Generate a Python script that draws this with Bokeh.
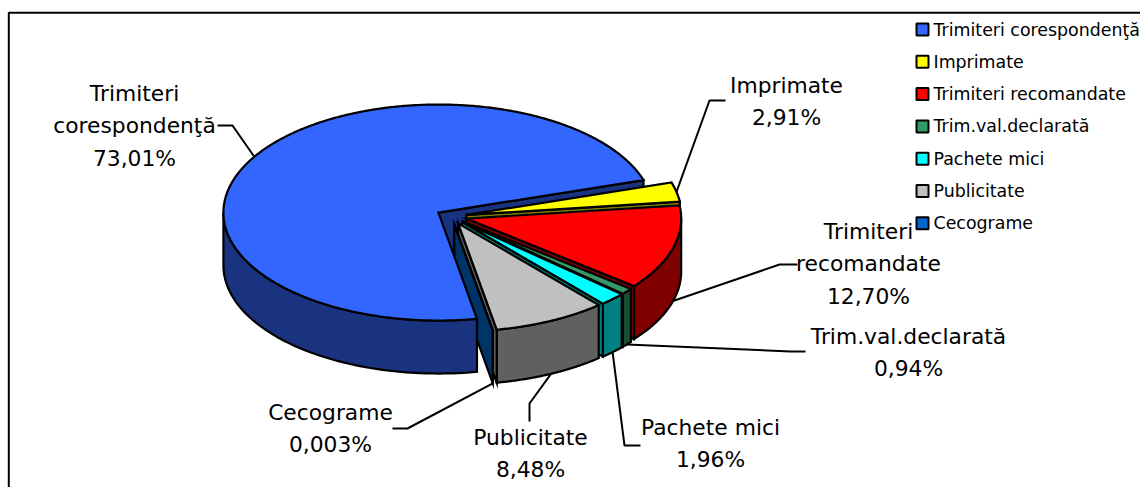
import numpy as np
from bokeh.plotting import figure
from bokeh.models import Range1d
from bokeh.core.properties import value
from bokeh.embed import file_html
from bokeh.resources import INLINE

# ---- data
categories = ["Trimiteri corespondenţă", "Imprimate", "Trimiteri recomandate",
              "Trim.val.declarată", "Pachete mici", "Publicitate", "Cecograme"]
values = [73.01, 2.91, 12.70, 0.94, 1.96, 8.48, 0.003]
value_labels = ["73,01%", "2,91%", "12,70%", "0,94%", "1,96%", "8,48%", "0,003%"]
label_names = [["Trimiteri", "corespondenţă"], ["Imprimate"], ["Trimiteri", "recomandate"],
               ["Trim.val.declarată"], ["Pachete mici"], ["Publicitate"], ["Cecograme"]]
colors = ["#3366FF", "#FFFF00", "#FF0000", "#339966", "#00FFFF", "#C0C0C0", "#0066CC"]
shades = ["#1A3380", "#808000", "#800000", "#1A4D33", "#008080", "#606060", "#003366"]

# ---- layout (picture pixels)
FONT = "DejaVu Sans"
CX, CY = 451.0, 216.0      # pie centre
RX, RY = 215.0, 108.0      # ellipse radii
DEPTH = 53.0
EXPLODE = 0.071
END_OF_FIRST = -17.5       # ellipse angle where the first slice ends
label_xy = [(134, 93), (786, 85), (868, 231), (908, 336), (710, 427), (530, 437), (330, 412)]
line_step = 32.3
elbows = [((217, 125), (232, 125)), ((725, 100), (709, 100)), ((797, 264), (779, 264)),
          ((805, 351), (790, 351)), ((640, 445), (624, 445)), ((529, 421), (529, 403)),
          ((392, 428), (407, 428))]

p = figure(width=1140, height=487, x_range=Range1d(0, 1140), y_range=Range1d(487, 0),
           toolbar_location=None, output_backend="svg", min_border=0,
           outline_line_color=None, background_fill_color="white", border_fill_color="white")
p.axis.visible = False
p.grid.visible = False

p.line([8.3, 8.3, 1140], [487, 12.3, 12.3], line_color="black", line_width=2)

sweep = np.array(values) / sum(values) * 360.0
t_end = END_OF_FIRST + np.cumsum(np.concatenate(([0.0], sweep[1:])))
t_start = t_end - sweep


def rim(ax, ay, t):
    r = np.radians(t)
    return ax + RX * np.cos(r), ay + RY * np.sin(r)


polys = {"xs": [], "ys": [], "fill": []}


def add(xs, ys, fill):
    polys["xs"].append(list(np.round(xs, 2)))
    polys["ys"].append(list(np.round(ys, 2)))
    polys["fill"].append(fill)


apex = []
mid = []
for a, b in zip(t_start, t_end):
    m = (a + b) / 2.0
    mid.append(m)
    r = np.radians(m)
    apex.append((CX + EXPLODE * RX * np.cos(r), CY + EXPLODE * RY * np.sin(r)))


def end_face(i):
    ax, ay = apex[i]
    rx, ry = rim(ax, ay, t_end[i])
    add([ax, rx, rx, ax], [ay, ry, ry + DEPTH, ay + DEPTH], shades[i])


def wall(i):
    ax, ay = apex[i]
    # the front half of the rim only: what is behind cannot be seen
    for k in (-360, 0, 360):
        lo, hi = max(t_start[i], k), min(t_end[i], k + 180)
        if hi > lo:
            t = np.linspace(lo, hi, 80)
            x, y = rim(ax, ay, t)
            add(np.concatenate((x, x[::-1])), np.concatenate((y, y[::-1] + DEPTH)), shades[i])


def top(i):
    ax, ay = apex[i]
    t = np.linspace(t_start[i], t_end[i], max(int(sweep[i] * 2), 3))
    x, y = rim(ax, ay, t)
    add(np.concatenate(([ax], x)), np.concatenate(([ay], y)), colors[i])


end_face(0)
for i in range(1, len(values)):
    wall(i)
    end_face(i)
    top(i)
wall(0)
top(0)

p.patches("xs", "ys", source=polys, fill_color="fill", line_color="black",
          line_width=2.2, line_join="miter")

# ---- leader lines: from the label, via an elbow, to the slice's rim
for i, (s, e) in enumerate(elbows):
    ax, ay = apex[i]
    ex, ey = rim(ax, ay, mid[i])
    if np.sin(np.radians(mid[i])) > 0:
        ey += DEPTH
    p.line([s[0], e[0], ex], [s[1], e[1], ey], line_color="black", line_width=2)

# ---- data labels
tx, ty, tt = [], [], []
for (x, y), names, v in zip(label_xy, label_names, value_labels):
    for j, line in enumerate(names + [v]):
        tx.append(x)
        ty.append(y + j * line_step)
        tt.append(line)
p.text(tx, ty, text=tt, text_font=value(FONT), text_font_size="21.8px",
       text_align="center", text_baseline="middle", text_color="black")

# ---- legend
leg_y = [29 + 32.3 * i for i in range(len(categories))]
p.rect([922] * len(categories), leg_y, width=12, height=12, fill_color=colors,
       line_color="black", line_width=2)
p.text([933] * len(categories), leg_y, text=categories, text_font=value(FONT),
       text_font_size="17.4px", text_align="left", text_baseline="middle", text_color="black")

open("out.html", "w").write(file_html(p, INLINE))
